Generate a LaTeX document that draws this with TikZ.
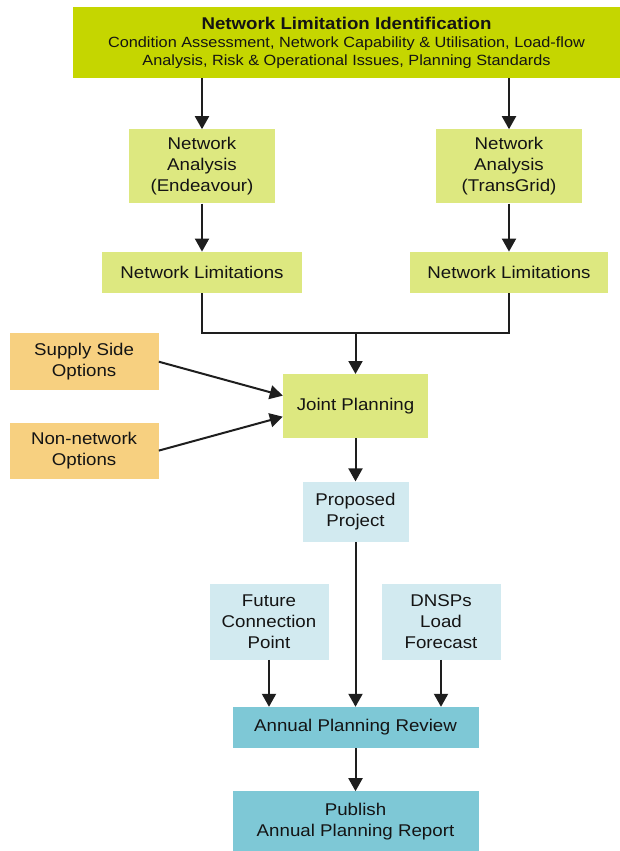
\documentclass[tikz,border=0pt]{standalone}
\usepackage{fontspec}
\setmainfont{Liberation Sans}[FakeStretch=1.1]
\usetikzlibrary{positioning,calc,arrows.meta}
\definecolor{limegreen}{RGB}{197,214,0}
\definecolor{palegreen}{RGB}{221,232,128}
\definecolor{sand}{RGB}{247,208,128}
\definecolor{paleblue}{RGB}{210,234,240}
\definecolor{reviewblue}{RGB}{126,200,214}
\definecolor{textgrey}{RGB}{20,20,20}
\definecolor{linegrey}{RGB}{30,30,30}

\begin{document}
\begin{tikzpicture}[
    x=1pt, y=1pt,
    box/.style={fill=palegreen, text=textgrey, align=center, inner sep=0pt, font=\fontsize{17}{21}\selectfont},
    option/.style={box, fill=sand, minimum width=149pt},
    input/.style={box, fill=paleblue},
    review/.style={box, fill=reviewblue, minimum width=246pt},
    arrow/.style={-{Triangle[length=13pt,width=14pt]}, line width=2pt, draw=linegrey},
    line/.style={line width=2pt, draw=linegrey}
]
    \useasboundingbox (0,0) rectangle (620,-851);

    \node[box, fill=limegreen, minimum width=547pt, minimum height=71pt, font=\fontsize{14.8}{18}\selectfont] (ident) at (346.5,-42.5)
        {{\fontsize{17}{18}\selectfont\bfseries Network Limitation Identification}\\
         Condition Assessment, Network Capability \& Utilisation, Load-flow\\
         Analysis, Risk \& Operational Issues, Planning Standards};

    \node[box, minimum width=146pt, minimum height=74pt, below=51pt of ident, xshift=-144.5pt] (endeavour) {Network\\Analysis\\(Endeavour)};
    \node[box, minimum width=146pt, minimum height=74pt, below=51pt of ident, xshift=162.5pt] (transgrid) {Network\\Analysis\\(TransGrid)};
    \node[box, minimum width=200pt, minimum height=41pt, below=48pt of endeavour] (limits1) {Network Limitations};
    \node[box, minimum width=198pt, minimum height=41pt, below=48pt of transgrid] (limits2) {Network Limitations};

    \coordinate (mid) at ($(limits1.south)!0.5!(limits2.south)$);
    \coordinate (bus) at ([yshift=-40pt]mid);
    \node[box, minimum width=145pt, minimum height=64pt, below=81pt of mid] (joint) {Joint Planning};

    \node[option, minimum height=57pt, left=124pt of joint, yshift=44.5pt] (supply) {Supply Side\\Options};
    \node[option, minimum height=56pt, below=32pt of supply] (nonnet) {Non-network\\Options};

    \node[input, minimum width=106pt, minimum height=60pt, below=43pt of joint] (project) {Proposed\\Project};
    \node[review, minimum height=41pt, below=165pt of project] (annual) {Annual Planning Review};
    \node[input, minimum width=119pt, minimum height=76pt, above=47pt of annual, xshift=-86.5pt] (future) {Future\\Connection\\Point};
    \node[input, minimum width=119pt, minimum height=76pt, above=47pt of annual, xshift=85.5pt] (dnsp) {DNSPs\\Load\\Forecast};
    \node[review, minimum height=60pt, below=43pt of annual] (publish) {Publish\\Annual Planning Report};

    \draw[arrow] (ident.south -| endeavour) -- (endeavour);
    \draw[arrow] (ident.south -| transgrid) -- (transgrid);
    \draw[arrow] (endeavour) -- (limits1);
    \draw[arrow] (transgrid) -- (limits2);
    \draw[line] (limits1.south) |- (bus) -| (limits2.south);
    \draw[arrow] (bus) -- (joint);
    \draw[arrow] (supply.east) -- ([yshift=10.5pt]joint.west);
    \draw[arrow] (nonnet.east) -- ([yshift=-10.5pt]joint.west);
    \draw[arrow] (joint) -- (project);
    \draw[arrow] (project.south) -- (project.south |- annual.north);
    \draw[arrow] (future) -- (future |- annual.north);
    \draw[arrow] (dnsp) -- (dnsp |- annual.north);
    \draw[arrow] (annual) -- (publish);
\end{tikzpicture}
\end{document}
